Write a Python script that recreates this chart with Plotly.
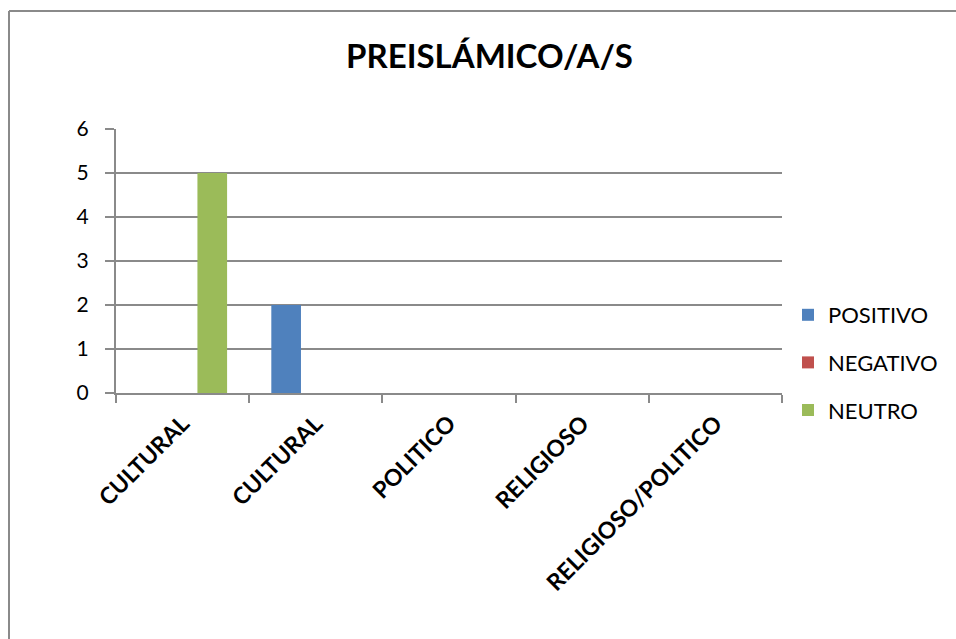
import plotly.graph_objects as go

categories = ["CULTURAL", "CULTURAL", "POLITICO", "RELIGIOSO", "RELIGIOSO/POLITICO"]
positivo = [0, 2, 0, 0, 0]
negativo = [0, 0, 0, 0, 0]
neutro = [5, 0, 0, 0, 0]
series_names = ["POSITIVO", "NEGATIVO", "NEUTRO"]
series_values = [positivo, negativo, neutro]
colors = ["#4F81BD", "#C0504D", "#9BBB59"]
y_ticks = [0, 1, 2, 3, 4, 5, 6]
title_text = "PREISLÁMICO/A/S"

x_pos = list(range(len(categories)))
FONT = "Lato, Calibri, Carlito, sans-serif"
GRID = "#8A8A8A"

fig = go.Figure()
for name, vals, col in zip(series_names, series_values, colors):
    fig.add_trace(go.Bar(x=x_pos, y=vals, name=name, marker=dict(color=col, line=dict(width=0)),
                         legendgroup=name))

L, R, T, B = 116, 174, 129, 246
W, H = 956, 639
pw, ph = W - L - R, H - T - B
bx = (9 - L) / pw
by = 1 + (T - 11) / ph

fig.update_layout(
    width=W, height=H,
    margin=dict(l=L, r=R, t=T, b=B, pad=0),
    paper_bgcolor="white", plot_bgcolor="white",
    barmode="group", bargap=0.332, bargroupgap=0,
    font=dict(family=FONT, size=18, color="#000000"),
    title=dict(text="<b>" + title_text + "</b>", x=489.5 / W, xanchor="center",
               y=1 - 56 / H, yanchor="middle", font=dict(size=33, family=FONT)),
    showlegend=True,
    legend=dict(x=(788 - L) / pw, xanchor="left", y=1 - (294 - T) / ph, yanchor="top",
                font=dict(size=22, family=FONT), tracegroupgap=16, itemwidth=30,
                bgcolor="rgba(0,0,0,0)"),
    xaxis=dict(range=[-0.5, 4.5], tickvals=x_pos, ticktext=["<b>" + c + "</b>" for c in categories],
               ticks="", tickangle=-45, tickfont=dict(size=23, family=FONT),
               ticklabelstandoff=6,
               showgrid=False, showline=True, linecolor=GRID, linewidth=2,
               zeroline=False,
               minor=dict(tick0=0.5, dtick=1, ticks="outside", ticklen=8, tickcolor=GRID,
                          tickwidth=2, showgrid=False)),
    yaxis=dict(range=[0, 6], tickvals=y_ticks, ticks="outside", ticklen=9, tickcolor=GRID,
               tickwidth=2, showgrid=True, gridcolor=GRID, gridwidth=2,
               showline=True, linecolor=GRID, linewidth=2, zeroline=False,
               tickfont=dict(size=21, family=FONT), ticklabelstandoff=12),
    shapes=[
        dict(type="line", xref="paper", yref="paper", x0=bx, x1=bx, y0=by, y1=-1,
             line=dict(color=GRID, width=2)),
        dict(type="line", xref="paper", yref="paper", x0=bx, x1=2, y0=by, y1=by,
             line=dict(color=GRID, width=2)),
    ],
)

fig.write_html("out.html", config={"displayModeBar": False},
               post_script="document.body.style.margin='0';document.body.style.overflow='hidden';")
